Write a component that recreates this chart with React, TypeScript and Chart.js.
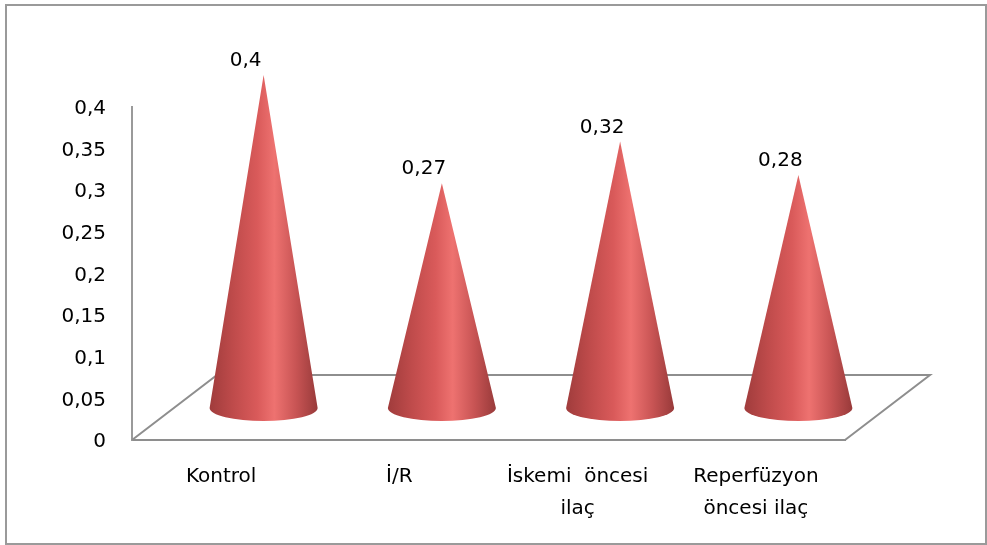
import React, { useEffect, useRef } from "react";
import { Chart, registerables } from "chart.js";

Chart.register(...registerables);

const categories: (string | string[])[] = [
  "Kontrol",
  "İ/R",
  ["İskemi  öncesi", "ilaç"],
  ["Reperfüzyon", "öncesi ilaç"],
];
const values: number[] = [0.4, 0.27, 0.32, 0.28];
const valueLabels: string[] = ["0,4", "0,27", "0,32", "0,28"];
const yMin = 0;
const yMax = 0.4;
const yStep = 0.05;

const FONT = "'DejaVu Sans', sans-serif";
const FONT_SIZE = 20;
const DEPTH_X = 85;
const DEPTH_Y = -65;

const conePlugin = {
  id: "cone3d",
  beforeDatasetsDraw(chart: any) {
    const { ctx, chartArea } = chart;
    const { left, right, bottom } = chartArea;
    ctx.save();
    ctx.strokeStyle = "#8e8e8e";
    ctx.lineWidth = 2;
    ctx.beginPath();
    ctx.moveTo(left, bottom);
    ctx.lineTo(left + DEPTH_X, bottom + DEPTH_Y);
    ctx.lineTo(right + DEPTH_X, bottom + DEPTH_Y);
    ctx.lineTo(right, bottom);
    ctx.stroke();
    ctx.restore();
  },
  afterDatasetsDraw(chart: any) {
    const { ctx } = chart;
    const meta = chart.getDatasetMeta(0);
    ctx.save();
    meta.data.forEach((el: any, i: number) => {
      const cx = el.x + DEPTH_X / 2;
      const baseY = el.base + DEPTH_Y / 2 + 0.5;
      const apexY = el.y + DEPTH_Y / 2 + 0.5;
      const rx = el.width / 2;
      const ry = 13;
      const g = ctx.createLinearGradient(cx - rx, 0, cx + rx, 0);
      g.addColorStop(0, "#a03c3c");
      g.addColorStop(0.22, "#bf4b4b");
      g.addColorStop(0.44, "#d95a5a");
      g.addColorStop(0.6, "#ee7270");
      g.addColorStop(0.8, "#c85454");
      g.addColorStop(1, "#983a3a");
      ctx.fillStyle = g;
      ctx.beginPath();
      ctx.moveTo(cx - rx, baseY);
      ctx.lineTo(cx, apexY);
      ctx.lineTo(cx + rx, baseY);
      ctx.ellipse(cx, baseY, rx, ry, 0, 0, Math.PI, false);
      ctx.closePath();
      ctx.fill();

      ctx.fillStyle = "#000";
      ctx.font = `${FONT_SIZE}px ${FONT}`;
      ctx.textAlign = "center";
      ctx.textBaseline = "middle";
      ctx.fillText(valueLabels[i], cx - 18, apexY - 14);
    });
    ctx.restore();
  },
  afterDraw(chart: any) {
    const { ctx, width, height } = chart;
    ctx.save();
    ctx.strokeStyle = "#9a9a9a";
    ctx.lineWidth = 2;
    ctx.strokeRect(6, 5, width - 7, height - 6);
    ctx.restore();
  },
};

export default function App() {
  const ref = useRef<HTMLCanvasElement | null>(null);
  useEffect(() => {
    if (!ref.current) return;
    const chart = new Chart(ref.current, {
      type: "bar",
      data: {
        labels: categories as any,
        datasets: [
          {
            data: values,
            backgroundColor: "rgba(0,0,0,0)",
            borderWidth: 0,
            categoryPercentage: 1,
            barPercentage: 0.606,
          },
        ],
      },
      options: {
        responsive: false,
        animation: false,
        devicePixelRatio: 1,
        layout: { padding: { top: 107, right: 142, left: 0, bottom: 0 } },
        plugins: {
          legend: { display: false },
          tooltip: { enabled: false },
        },
        scales: {
          x: {
            grid: { display: false, drawTicks: false },
            border: { display: true, color: "#8e8e8e", width: 2 },
            ticks: {
              color: "#000",
              font: { family: FONT, size: FONT_SIZE, lineHeight: 1.6 },
              padding: 21,
              maxRotation: 0,
              autoSkip: false,
            },
            afterFit: (s: any) => {
              s.height = 105;
            },
          },
          y: {
            min: yMin,
            max: yMax,
            grid: { display: false, drawTicks: false },
            border: { display: true, color: "#9a9a9a", width: 2 },
            ticks: {
              stepSize: yStep,
              color: "#000",
              font: { family: FONT, size: FONT_SIZE },
              padding: 26,
              labelOffset: 2,
              callback: (v: any) =>
                String(Number(Number(v).toFixed(2))).replace(".", ","),
            },
            afterFit: (s: any) => {
              s.width = 132;
            },
          },
        },
      },
      plugins: [conePlugin],
    });
    return () => chart.destroy();
  }, []);
  return (
    <div
      style={{
        position: "fixed",
        left: 0,
        top: 0,
        width: 987,
        height: 545,
        background: "#fff",
      }}
    >
      <canvas ref={ref} width={987} height={545} />
    </div>
  );
}
